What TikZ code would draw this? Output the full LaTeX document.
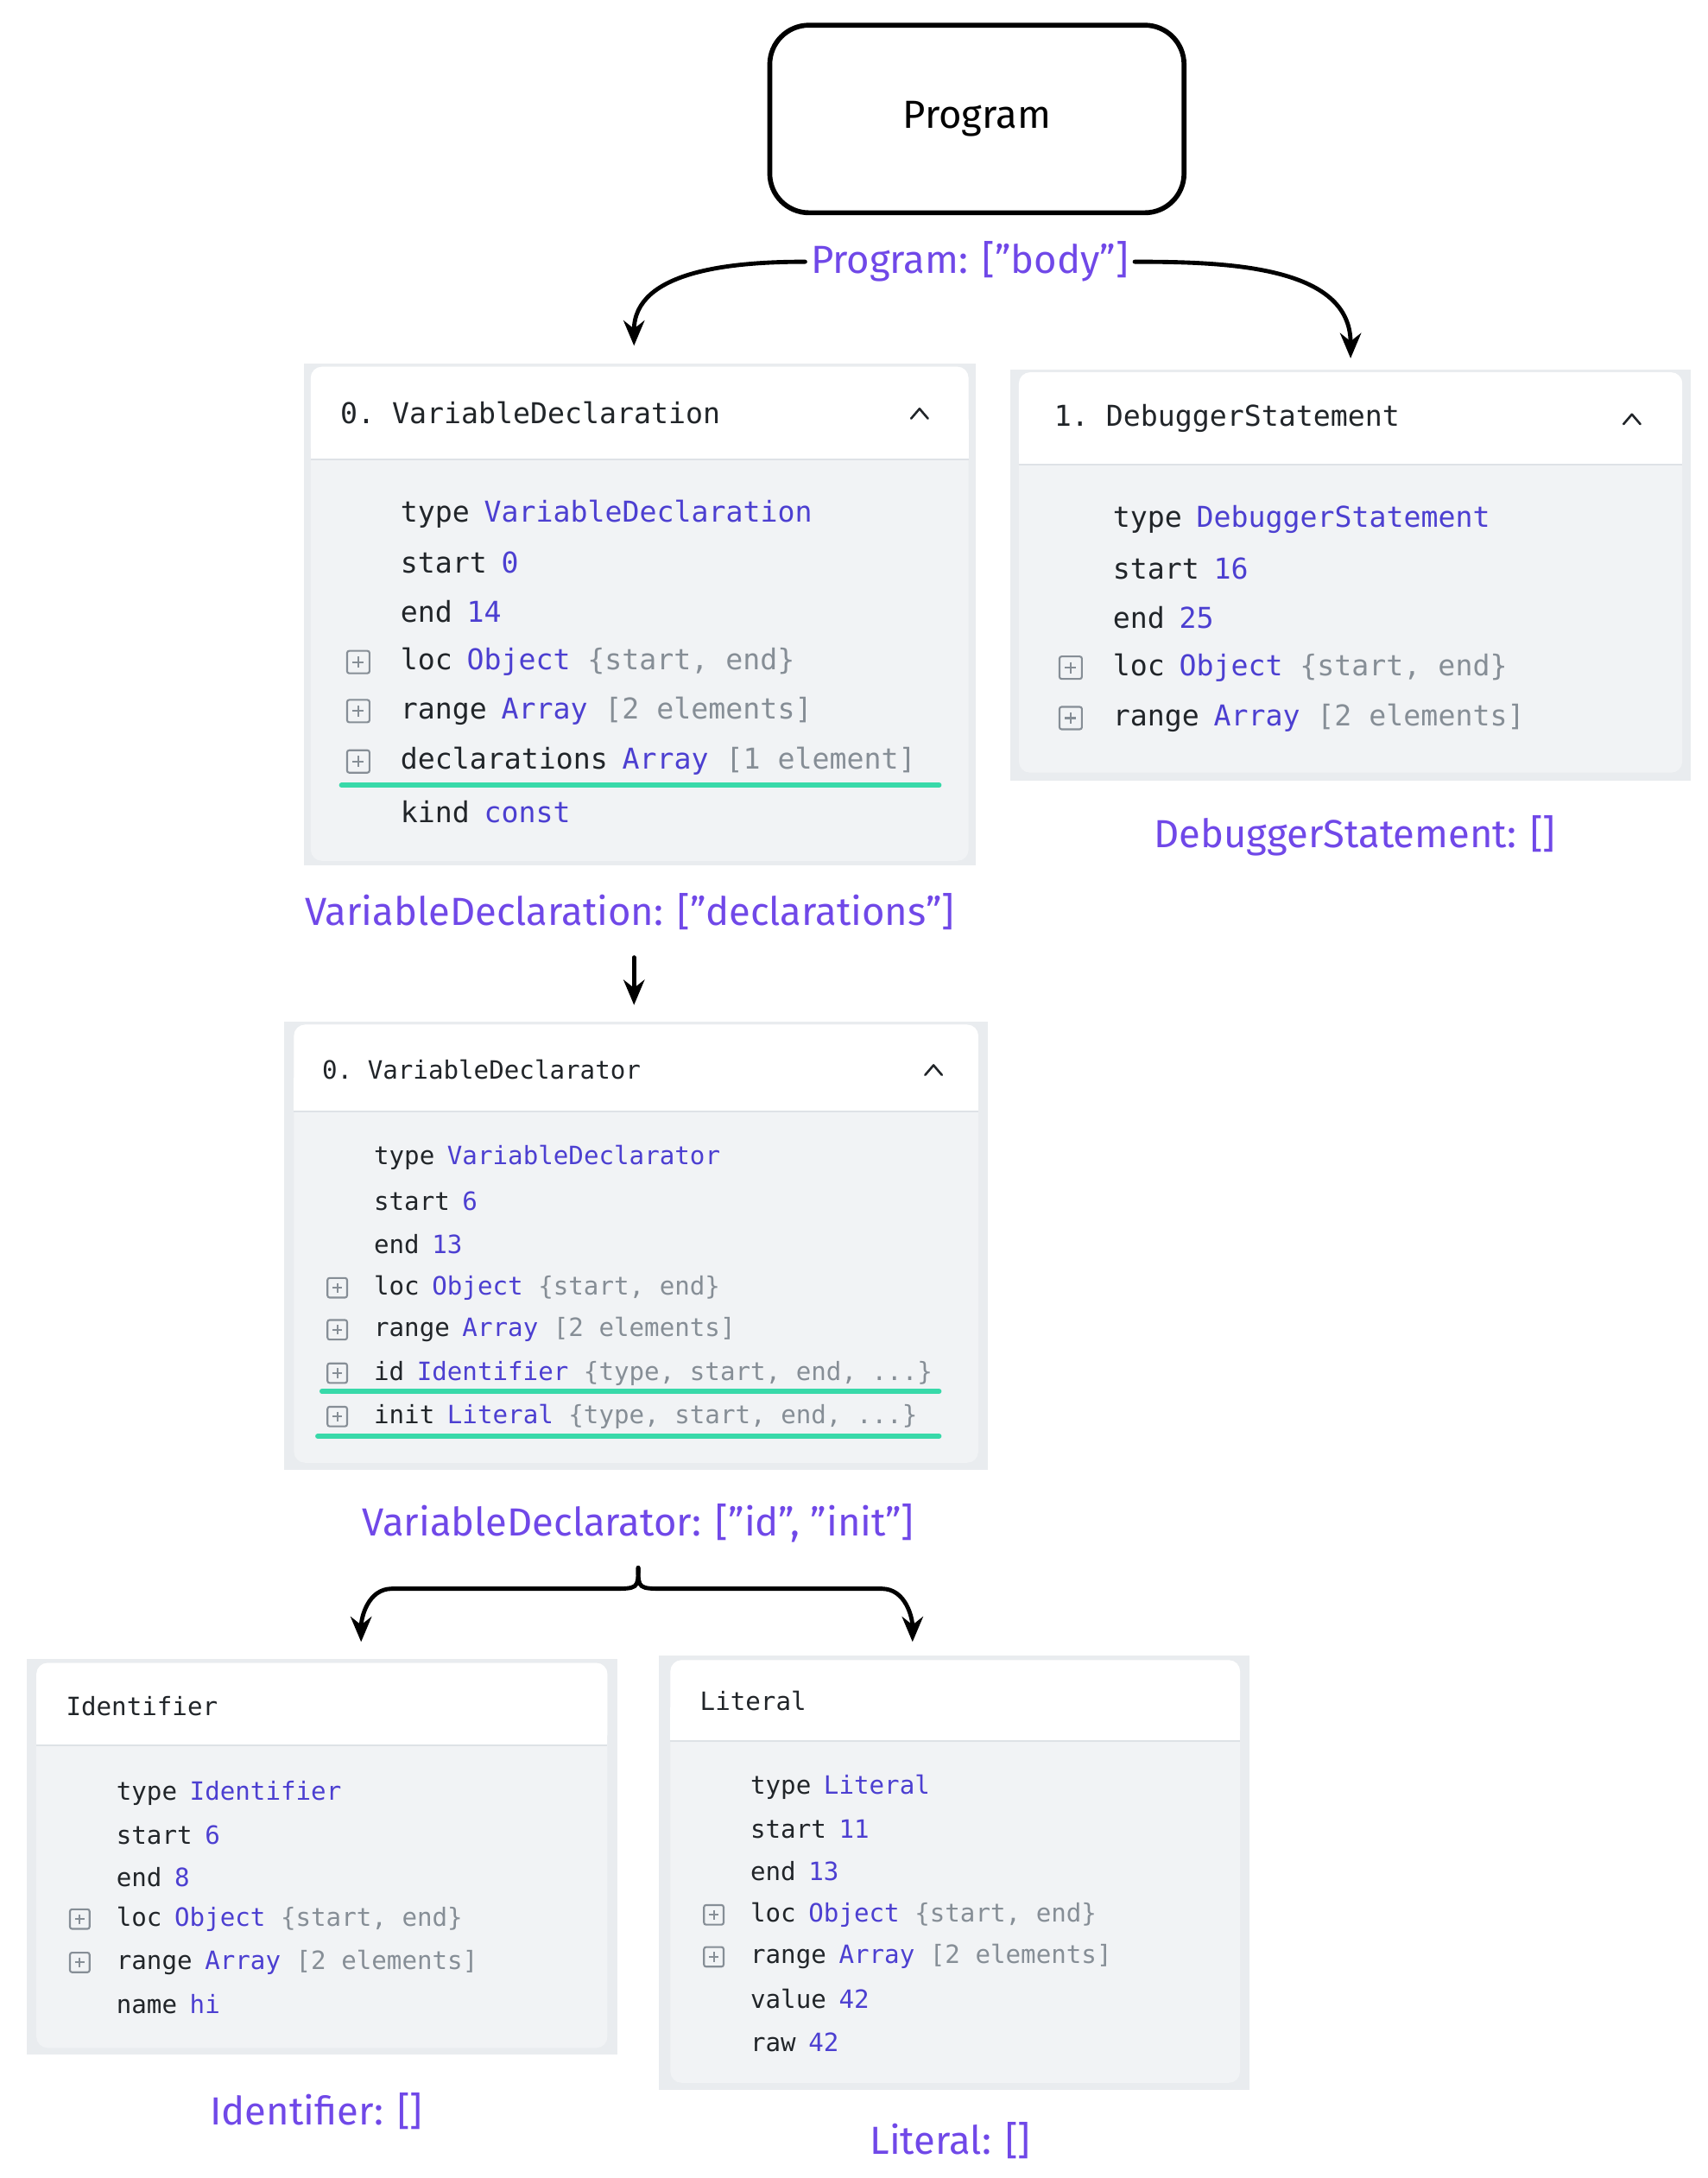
\documentclass[tikz,border=0pt]{standalone}
\usepackage{fontspec}
\setmainfont{Fira Sans}
\setmonofont{DejaVu Sans Mono}
\usetikzlibrary{arrows.meta}
\definecolor{lbl}{HTML}{7048E8}
\definecolor{val}{HTML}{4C3FD1}
\definecolor{dsc}{HTML}{868E96}
\definecolor{keyc}{HTML}{212529}
\definecolor{bodyc}{HTML}{F1F3F5}
\definecolor{framec}{HTML}{E9ECEF}
\definecolor{sepc}{HTML}{DEE2E6}
\definecolor{grn}{HTML}{38D9A9}
\definecolor{plusc}{HTML}{868E96}
\newcommand\pbox[3]{\draw[plusc,line width=1.3pt,rounded corners=1.5pt] ({#1-#3},{#2-#3}) rectangle ({#1+#3},{#2+#3}); \draw[plusc,line width=1.3pt] ({#1-#3/2},#2)--({#1+#3/2},#2) (#1,{#2-#3/2})--(#1,{#2+#3/2});}
\newcommand\vl[1]{\textcolor{val}{#1}}
\newcommand\ds[1]{\textcolor{dsc}{#1}}
\begin{document}
\begin{tikzpicture}[x=1pt,y=-1pt,
  frame/.style={fill=framec,draw=none},
  card/.style={fill=bodyc,draw=none,rounded corners=8pt},
  head/.style={fill=white,draw=none},
  ma/.style={font=\fontsize{20.5}{24}\selectfont\ttfamily,text=keyc,anchor=west,inner sep=0pt},
  mb/.style={font=\fontsize{18}{22}\selectfont\ttfamily,text=keyc,anchor=west,inner sep=0pt},
  hand/.style={font=\fontsize{28}{32}\selectfont,text=lbl,inner sep=4pt},
  arr/.style={line width=3pt,-{Stealth[length=18pt,width=15pt]},line cap=round},
  lnk/.style={line width=3pt,line cap=round},
  gl/.style={grn,line width=3.5pt,line cap=round},
  chev/.style={line width=1.6pt,keyc,line cap=round,line join=round}]
\useasboundingbox (0,0) rectangle (1220,1556);
\fill[white] (0,0) rectangle (1220,1556);
% Program
\node[draw,line width=3.5pt,rounded corners=28pt,minimum width=296pt,minimum height=134pt,font=\fontsize{28}{32}\selectfont] (prog) at (698,85) {Program};
\node[hand] (lp) at (693,187) {Program: ["body"]};
\coordinate (a1) at (453,247);
\coordinate (a2) at (965,256);
\draw[arr] (lp.west) to[out=180,in=90] (a1);
\draw[arr] (lp.east) to[out=0,in=90] (a2);

% Panel VariableDeclaration
\fill[frame] (217,260) rectangle (697,618);
\fill[card] (222,262) rectangle (692,615);
\fill[head,rounded corners=8pt] (222,262) rectangle (692,328);
\fill[head] (222,300) rectangle (692,328);
\draw[sepc,line width=1.2pt] (222,328)--(692,328);
\node[ma] (vdh) at (243,295) {0. VariableDeclaration};
\draw[chev] (651,299)--(657,292)--(663,299);
\node[ma] (vd1) at (286,367) {type\hspace{0.5em}\vl{VariableDeclaration}};
\node[ma] (vd2) at (286,402) {start\hspace{0.5em}\vl{0}};
\node[ma] (vd3) at (286,437) {end\hspace{0.5em}\vl{14}};
\node[ma] (vd4) at (286,473) {loc\hspace{0.5em}\vl{Object}\hspace{0.6em}\ds{\{start, end\}}};
\node[ma] (vd5) at (286,508) {range\hspace{0.5em}\vl{Array}\hspace{0.6em}\ds{[2 elements]}};
\node[ma] (vd6) at (286,544) {declarations\hspace{0.5em}\vl{Array}\hspace{0.6em}\ds{[1 element]}};
\node[ma] (vd7) at (286,580) {kind\hspace{0.5em}\vl{const}};
\pbox{256}{473}{8}\pbox{256}{508}{8}\pbox{256}{544}{8}
\draw[gl] (244,561)--(671,561);

% Panel DebuggerStatement
\fill[frame] (722,264) rectangle (1208,558);
\fill[card] (728,266) rectangle (1202,552);
\fill[head,rounded corners=8pt] (728,266) rectangle (1202,332);
\fill[head] (728,300) rectangle (1202,332);
\draw[sepc,line width=1.2pt] (728,332)--(1202,332);
\node[ma] (dsh) at (753,299) {1. DebuggerStatement};
\draw[chev] (1160,303)--(1166,296)--(1172,303);
\node[ma] (ds1) at (795,371) {type\hspace{0.5em}\vl{DebuggerStatement}};
\node[ma] (ds2) at (795,406) {start\hspace{0.5em}\vl{16}};
\node[ma] (ds3) at (795,441) {end\hspace{0.5em}\vl{25}};
\node[ma] (ds4) at (795,477) {loc\hspace{0.5em}\vl{Object}\hspace{0.6em}\ds{\{start, end\}}};
\node[ma] (ds5) at (795,513) {range\hspace{0.5em}\vl{Array}\hspace{0.6em}\ds{[2 elements]}};
\pbox{765}{477}{8}\pbox{765}{513}{8}
\node[hand] (lds) at (968,597) {DebuggerStatement: []};

% VariableDeclaration label + arrow
\node[hand] (lvd) at (450,651) {VariableDeclaration: ["declarations"]};
\coordinate (a3) at (453,718);
\draw[arr] (453,684) -- (a3);

% Panel VariableDeclarator
\fill[frame] (203,730) rectangle (706,1050);
\fill[card] (210,732) rectangle (699,1045);
\fill[head,rounded corners=8pt] (210,732) rectangle (699,794);
\fill[head] (210,770) rectangle (699,794);
\draw[sepc,line width=1.2pt] (210,794)--(699,794);
\node[mb] (vrh) at (230,764) {0. VariableDeclarator};
\draw[chev] (661,768)--(667,761)--(673,768);
\node[mb] (vr1) at (267,827) {type\hspace{0.5em}\vl{VariableDeclarator}};
\node[mb] (vr2) at (267,858) {start\hspace{0.5em}\vl{6}};
\node[mb] (vr3) at (267,889) {end\hspace{0.5em}\vl{13}};
\node[mb] (vr4) at (267,920) {loc\hspace{0.5em}\vl{Object}\hspace{0.6em}\ds{\{start, end\}}};
\node[mb] (vr5) at (267,950) {range\hspace{0.5em}\vl{Array}\hspace{0.6em}\ds{[2 elements]}};
\node[mb] (vr6) at (267,981) {id\hspace{0.5em}\vl{Identifier}\hspace{0.6em}\ds{\{type, start, end, ...\}}};
\node[mb] (vr7) at (267,1012) {init\hspace{0.5em}\vl{Literal}\hspace{0.6em}\ds{\{type, start, end, ...\}}};
\pbox{241}{920}{7}\pbox{241}{950}{7}\pbox{241}{981}{7}\pbox{241}{1012}{7}
\draw[gl] (230,994)--(671,994);
\draw[gl] (227,1026)--(671,1026);

\node[hand] (lvr) at (456,1088) {VariableDeclarator: ["id", "init"]};
\coordinate (bt) at (456,1120);
\coordinate (a4) at (258,1173);
\coordinate (a5) at (652,1173);
\draw[lnk] (bt) .. controls (456,1135) .. (436,1135) -- (280,1135);
\draw[arr] (280,1135) to[out=180,in=90] (a4);
\draw[lnk] (bt) .. controls (456,1135) .. (476,1135) -- (630,1135);
\draw[arr] (630,1135) to[out=0,in=90] (a5);

% Panel Identifier
\fill[frame] (19,1185) rectangle (441,1468);
\fill[card] (26,1188) rectangle (434,1463);
\fill[head,rounded corners=8pt] (26,1188) rectangle (434,1247);
\fill[head] (26,1220) rectangle (434,1247);
\draw[sepc,line width=1.2pt] (26,1247)--(434,1247);
\node[mb] (idh) at (47,1219) {Identifier};
\node[mb] (id1) at (83,1281) {type\hspace{0.5em}\vl{Identifier}};
\node[mb] (id2) at (83,1311) {start\hspace{0.5em}\vl{6}};
\node[mb] (id3) at (83,1341) {end\hspace{0.5em}\vl{8}};
\node[mb] (id4) at (83,1371) {loc\hspace{0.5em}\vl{Object}\hspace{0.6em}\ds{\{start, end\}}};
\node[mb] (id5) at (83,1402) {range\hspace{0.5em}\vl{Array}\hspace{0.6em}\ds{[2 elements]}};
\node[mb] (id6) at (83,1432) {name\hspace{0.5em}\vl{hi}};
\pbox{57}{1371}{7}\pbox{57}{1402}{7}
\node[hand] (lid) at (226,1508) {Identifier: []};

% Panel Literal
\fill[frame] (471,1183) rectangle (893,1493);
\fill[card] (479,1186) rectangle (886,1488);
\fill[head,rounded corners=8pt] (479,1186) rectangle (886,1244);
\fill[head] (479,1220) rectangle (886,1244);
\draw[sepc,line width=1.2pt] (479,1244)--(886,1244);
\node[mb] (lth) at (500,1215) {Literal};
\node[mb] (lt1) at (536,1277) {type\hspace{0.5em}\vl{Literal}};
\node[mb] (lt2) at (536,1307) {start\hspace{0.5em}\vl{11}};
\node[mb] (lt3) at (536,1337) {end\hspace{0.5em}\vl{13}};
\node[mb] (lt4) at (536,1368) {loc\hspace{0.5em}\vl{Object}\hspace{0.6em}\ds{\{start, end\}}};
\node[mb] (lt5) at (536,1398) {range\hspace{0.5em}\vl{Array}\hspace{0.6em}\ds{[2 elements]}};
\node[mb] (lt6) at (536,1428) {value\hspace{0.5em}\vl{42}};
\node[mb] (lt7) at (536,1459) {raw\hspace{0.5em}\vl{42}};
\pbox{510}{1368}{7}\pbox{510}{1398}{7}
\node[hand] (llt) at (679,1529) {Literal: []};
\end{tikzpicture}
\end{document}
